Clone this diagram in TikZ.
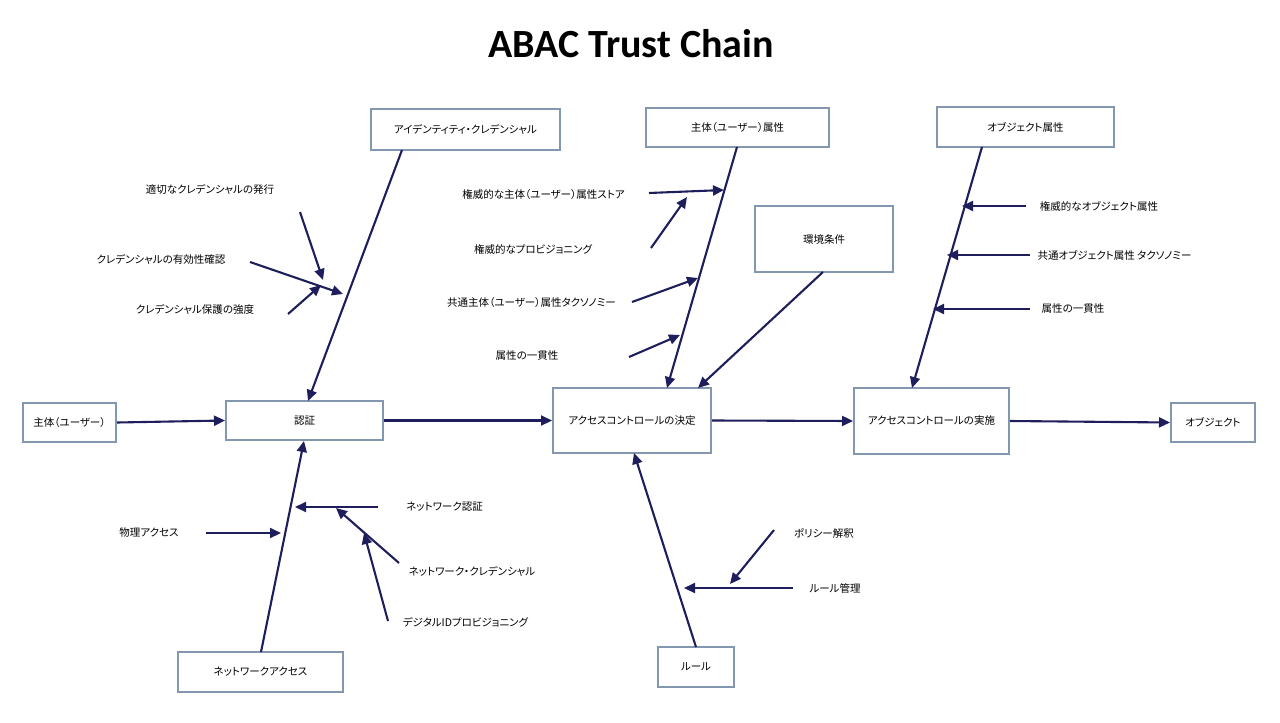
\documentclass[tikz,border=0pt]{standalone}
\usepackage{fontspec}
\usetikzlibrary{arrows.meta}
\newfontfamily\jp[RawFeature=+palt]{Noto Sans CJK JP}
\newfontfamily\titlefont{Carlito}
\definecolor{navy}{RGB}{30,30,92}
\definecolor{boxline}{RGB}{132,151,176}
\begin{document}
\begin{tikzpicture}[x=1pt,y=-1pt,
  box/.style={draw=boxline,line width=2pt,fill=white,inner sep=0pt,font=\jp\fontsize{10.5}{12}\selectfont},
  lbl/.style={inner sep=0pt,font=\jp\fontsize{10.5}{12}\selectfont},
  arr/.style={draw=navy,line width=2.1pt,-{Triangle[length=11pt,width=10pt]}}]
\path[use as bounding box,fill=white] (0,0) rectangle (1280,723);
\node[anchor=base,font=\titlefont\bfseries\fontsize{40}{44}\selectfont] (title) at (631,57) {ABAC Trust Chain};
% boxes
\node[box,minimum width=93pt,minimum height=39pt] (user) at (69.5,422.5) {主体（ユーザー）};
\node[box,minimum width=157pt,minimum height=39pt] (auth) at (304.5,420.5) {認証};
\node[box,minimum width=158pt,minimum height=65pt] (decide) at (632,420.5) {アクセスコントロールの決定};
\node[box,minimum width=155pt,minimum height=66pt] (enforce) at (931.5,421) {アクセスコントロールの実施};
\node[box,minimum width=84pt,minimum height=39pt] (object) at (1213,422.5) {オブジェクト};
\node[box,minimum width=189pt,minimum height=41pt] (idc) at (465.5,129.5) {アイデンティティ・クレデンシャル};
\node[box,minimum width=183pt,minimum height=39pt] (subj) at (737.5,127.5) {主体（ユーザー）属性};
\node[box,minimum width=138pt,minimum height=66pt] (env) at (824,239) {環境条件};
\node[box,minimum width=177pt,minimum height=40pt] (objattr) at (1025.5,127) {オブジェクト属性};
\node[box,minimum width=165pt,minimum height=40pt] (netacc) at (260.5,672) {ネットワークアクセス};
\node[box,minimum width=76pt,minimum height=40pt] (rule) at (696,667) {ルール};
% labels
\node[lbl] (l1) at (210,189) {適切なクレデンシャルの発行};
\node[lbl] (l2) at (161,259) {クレデンシャルの有効性確認};
\node[lbl] (l3) at (195,309) {クレデンシャル保護の強度};
\node[lbl] (l4) at (543.5,195) {権威的な主体（ユーザー）属性ストア};
\node[lbl] (l5) at (533,249) {権威的なプロビジョニング};
\node[lbl] (l6) at (531.5,303) {共通主体（ユーザー）属性タクソノミー};
\node[lbl] (l7) at (527,356) {属性の一貫性};
\node[lbl] (l8) at (1099,206) {権威的なオブジェクト属性};
\node[lbl] (l9) at (1114.5,255) {共通オブジェクト属性 タクソノミー};
\node[lbl] (l10) at (1073,309) {属性の一貫性};
\node[lbl] (l11) at (149,533) {物理アクセス};
\node[lbl] (l12) at (444.5,507) {ネットワーク認証};
\node[lbl] (l13) at (472,571) {ネットワーク・クレデンシャル};
\node[lbl] (l14) at (465.5,622) {デジタルIDプロビジョニング};
\node[lbl] (l15) at (824,533) {ポリシー解釈};
\node[lbl] (l16) at (835,588) {ルール管理};
% spine end points
\coordinate (idcB) at (402,150);   \coordinate (authT) at (308,401);
\coordinate (netT) at (261,652);   \coordinate (authB) at (304,441);
\coordinate (subjB) at (737,147);  \coordinate (decT1) at (667,388);
\coordinate (envB) at (823,272);   \coordinate (decT2) at (698,388);
\coordinate (objB) at (982,147);   \coordinate (enfT) at (912,388);
\coordinate (ruleT) at (696,647);  \coordinate (decB) at (634,453);
% main flow
\draw[arr] (user.east) -- (auth.west);
\draw[arr] (auth.east) -- (decide.west);
\draw[arr] (decide.east) -- (enforce.west);
\draw[arr] (enforce.east) -- (object.west);
% spines
\draw[arr] (idcB) -- (authT);
\draw[arr] (netT) -- (authB);
\draw[arr] (subjB) -- (decT1);
\draw[arr] (envB) -- (decT2);
\draw[arr] (objB) -- (enfT);
\draw[arr] (ruleT) -- (decB);
% branch coordinates
\coordinate (b1s) at (300,212); \coordinate (b1e) at (323,280);
\coordinate (b2s) at (250,262); \coordinate (b2e) at (343,294);
\coordinate (b3s) at (288,314); \coordinate (b3e) at (321,285);
\coordinate (b4s) at (649,193); \coordinate (b4e) at (724,190);
\coordinate (b5s) at (651,248); \coordinate (b5e) at (687,197);
\coordinate (b6s) at (632,302); \coordinate (b6e) at (698,278);
\coordinate (b7s) at (629,357); \coordinate (b7e) at (680,335);
\coordinate (b8s) at (1026,206); \coordinate (b8e) at (962,206);
\coordinate (b9s) at (1030,255); \coordinate (b9e) at (947,255);
\coordinate (b10s) at (1030,309); \coordinate (b10e) at (933,309);
\coordinate (b11s) at (206,533); \coordinate (b11e) at (281,533);
\coordinate (b12s) at (378,507); \coordinate (b12e) at (295,507);
\coordinate (b13s) at (399,563); \coordinate (b13e) at (336,508);
\coordinate (b14s) at (388,621); \coordinate (b14e) at (364,533);
\coordinate (b15s) at (774,530); \coordinate (b15e) at (730,584);
\coordinate (b16s) at (793,588); \coordinate (b16e) at (684,588);
\foreach \i in {1,...,16}{\draw[arr] (b\i s) -- (b\i e);}
\end{tikzpicture}
\end{document}
